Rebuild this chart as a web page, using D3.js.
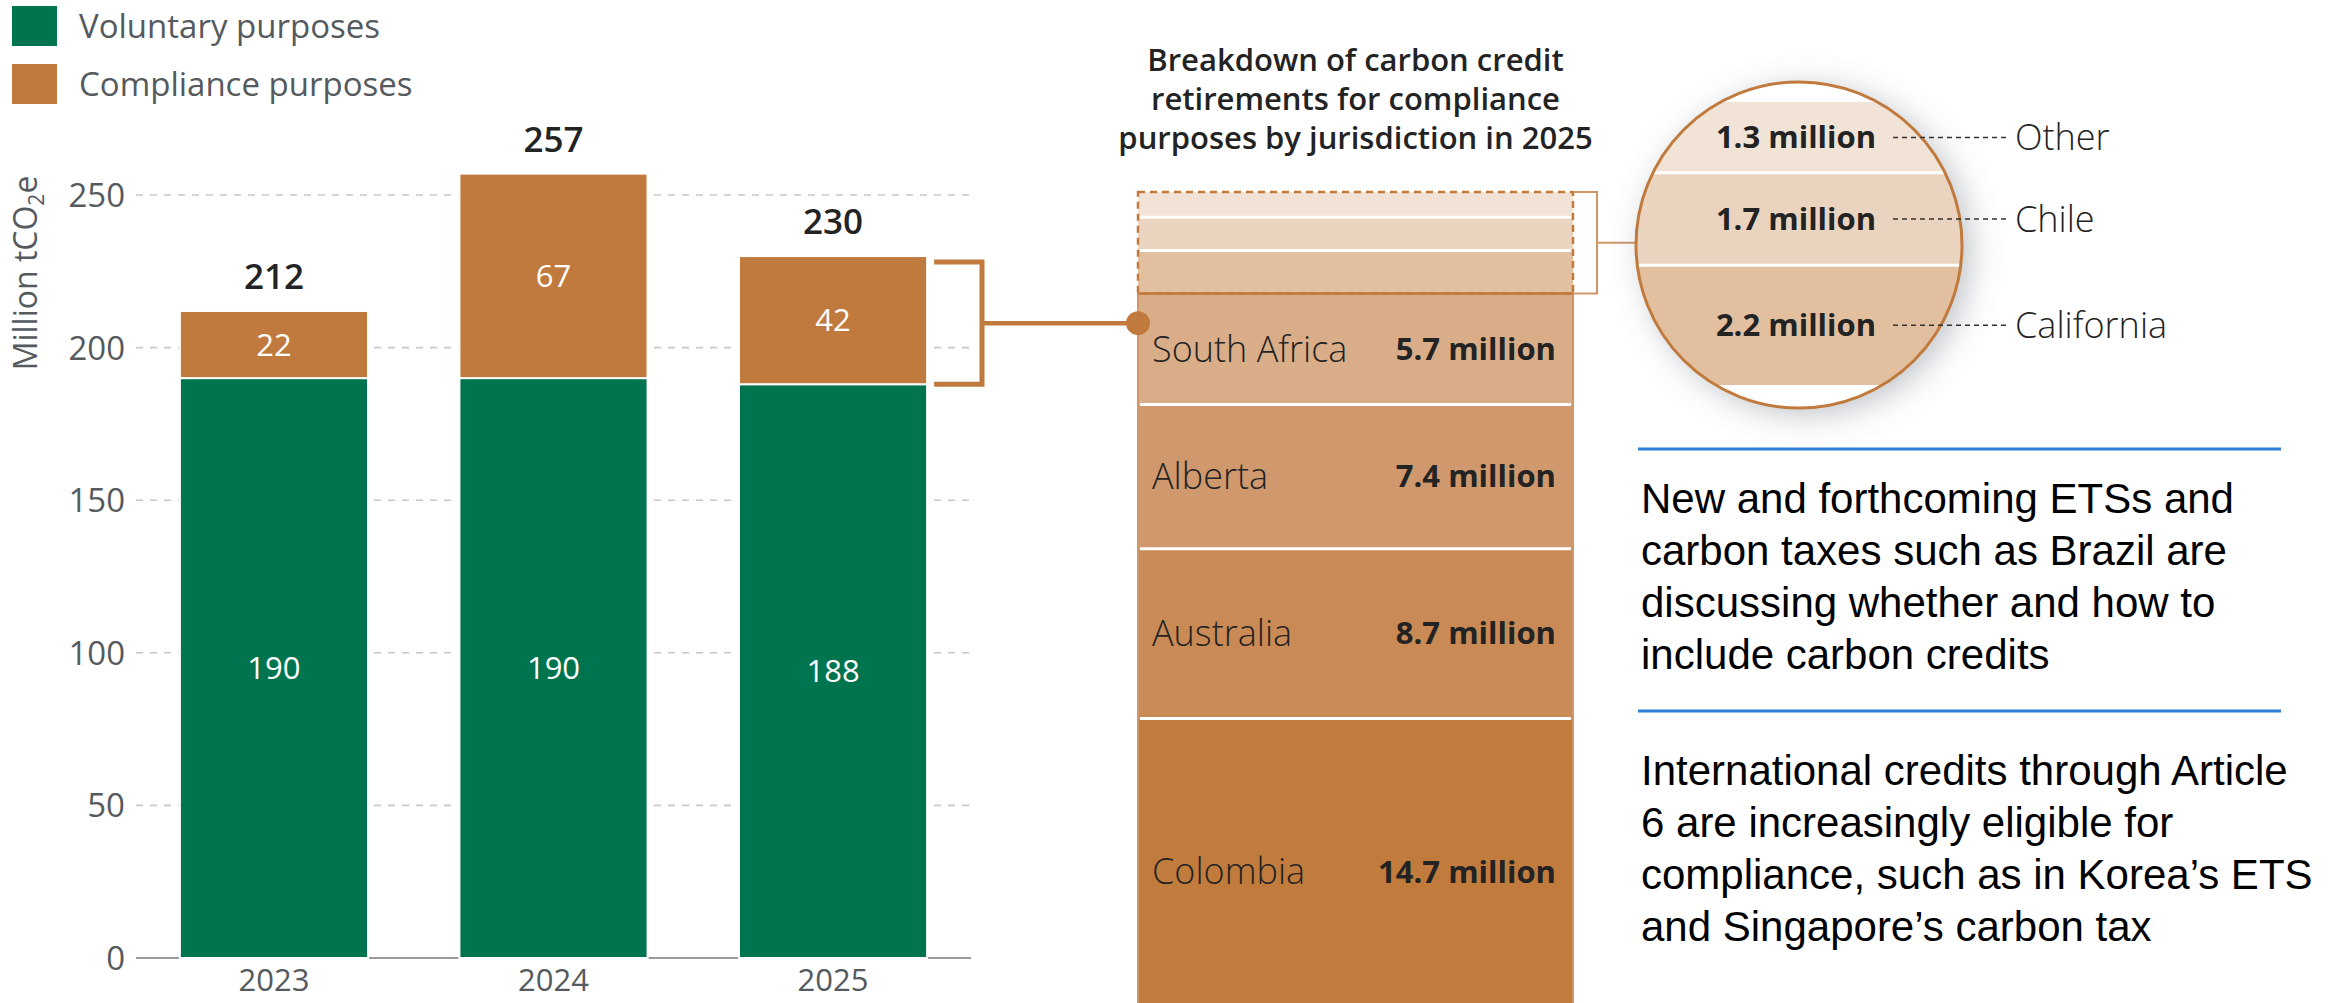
<!DOCTYPE html>
<html>
<head>
<meta charset="utf-8">
<script src="https://cdn.jsdelivr.net/npm/d3@7"></script>
<style>
  html, body { margin: 0; padding: 0; background: #ffffff; }
  svg { display: block; }
  text { font-family: "Open Sans", "Lato", sans-serif; }
</style>
</head>
<body>
<svg id="chart" width="2346" height="1003"></svg>
<script>
// ---------- data ----------
const years = ["2023", "2024", "2025"];
const voluntary = [190, 190, 188];
const compliance = [22, 67, 42];
const totals = [212, 257, 230];
const yTicks = [0, 50, 100, 150, 200, 250];
const seriesNames = ["Voluntary purposes", "Compliance purposes"];

const jurisdictions = ["Colombia", "Australia", "Alberta", "South Africa", "California", "Chile", "Other"];
const jurisValues = [14.7, 8.7, 7.4, 5.7, 2.2, 1.7, 1.3];
const jurisLabels = ["14.7 million", "8.7 million", "7.4 million", "5.7 million", "2.2 million", "1.7 million", "1.3 million"];
const zoomedNames = ["California", "Chile", "Other"];

const breakdownTitle = ["Breakdown of carbon credit", "retirements for compliance", "purposes by jurisdiction in 2025"];
const note1 = ["New and forthcoming ETSs and", "carbon taxes such as Brazil are", "discussing whether and how to", "include carbon credits"];
const note2 = ["International credits through Article", "6 are increasingly eligible for", "compliance, such as in Korea\u2019s ETS", "and Singapore\u2019s carbon tax"];

// ---------- styles ----------
const GREEN = "#00734f";
const ORANGE = "#c17a3d";
const jurisColors = ["#c17b3d", "#c98a55", "#d0986d", "#d9ad87", "#e2bf9f", "#ebd4bf", "#f1e3d6"];
const GRAY = "#555a5e";
const DARK = "#232323";

const svg = d3.select("#chart");

// defs: shadow + clip
const defs = svg.append("defs");
const f = defs.append("filter").attr("id", "shadow").attr("x", "-40%").attr("y", "-40%").attr("width", "180%").attr("height", "180%");
f.append("feDropShadow").attr("dx", 8).attr("dy", 6).attr("stdDeviation", 16).attr("flood-color", "#6f7680").attr("flood-opacity", 0.45);

// ---------- main bar chart ----------
const x = d3.scaleBand().domain(years).range([136, 971]).paddingInner(0.327).paddingOuter(0.157);
const y = d3.scaleLinear().domain([0, 250]).range([958, 195]);

// gridlines
const grid = svg.append("g");
grid.selectAll("line").data(yTicks.filter(d => d > 0)).join("line")
  .attr("x1", 136).attr("x2", 971)
  .attr("y1", d => y(d)).attr("y2", d => y(d))
  .attr("stroke", "#c8c8c8").attr("stroke-width", 1.6).attr("stroke-dasharray", "7,7");

// y axis
const yAxis = d3.axisLeft(y).tickValues(yTicks).tickSize(0).tickPadding(0);
const ya = svg.append("g").attr("transform", "translate(125,0)").call(yAxis);
ya.select(".domain").remove();
ya.selectAll("text").attr("font-size", 33).attr("fill", GRAY).attr("dy", "0.35em")
  .style("font-family", "'Open Sans', sans-serif");

// baseline
svg.append("line").attr("x1", 136).attr("x2", 971).attr("y1", y(0)).attr("y2", y(0))
  .attr("stroke", "#9a9a9a").attr("stroke-width", 2);

// y title
svg.append("text")
  .attr("transform", `translate(37,${273}) rotate(-90)`)
  .attr("text-anchor", "middle").attr("font-size", 32).attr("fill", GRAY)
  .html('Million tCO<tspan font-size="21" dy="7">2</tspan><tspan dy="-7">e</tspan>');

// stacked bars
const stackData = years.map((yr, i) => ({ year: yr, voluntary: voluntary[i], compliance: compliance[i] }));
const stack = d3.stack().keys(["voluntary", "compliance"])(stackData);
const colors = { voluntary: GREEN, compliance: ORANGE };
svg.append("g").selectAll("g").data(stack).join("g")
  .attr("fill", d => colors[d.key])
  .selectAll("rect").data(d => d).join("rect")
  .attr("x", d => x(d.data.year))
  .attr("width", x.bandwidth())
  .attr("y", d => y(d[1]))
  .attr("height", d => y(d[0]) - y(d[1]))
  .attr("stroke", "#ffffff").attr("stroke-width", 2);

// segment labels
svg.append("g").selectAll("g").data(stack).join("g")
  .selectAll("text").data(d => d).join("text")
  .attr("x", d => x(d.data.year) + x.bandwidth() / 2)
  .attr("y", d => (y(d[0]) + y(d[1])) / 2)
  .attr("dy", "0.36em").attr("text-anchor", "middle")
  .attr("font-size", 31).attr("fill", "#ffffff")
  .text(d => d[1] - d[0]);

// totals
svg.append("g").selectAll("text").data(years).join("text")
  .attr("x", d => x(d) + x.bandwidth() / 2)
  .attr("y", (d, i) => y(totals[i]) - 22)
  .attr("text-anchor", "middle").attr("font-size", 35).attr("font-weight", 600).attr("fill", DARK)
  .text((d, i) => totals[i]);

// x axis labels
const xAxis = d3.axisBottom(x).tickSize(0).tickPadding(0);
const xa = svg.append("g").attr("transform", `translate(0,${y(0)})`).call(xAxis);
xa.select(".domain").remove();
xa.selectAll("text").attr("font-size", 31).attr("fill", GRAY).attr("dy", "1.08em")
  .style("font-family", "'Open Sans', sans-serif");

// legend
const leg = svg.append("g");
seriesNames.forEach((name, i) => {
  const yy = 6 + i * 58;
  leg.append("rect").attr("x", 12).attr("y", yy).attr("width", 45).attr("height", 40)
    .attr("fill", i === 0 ? GREEN : ORANGE);
  leg.append("text").attr("x", 79).attr("y", yy + 20).attr("dy", "0.35em")
    .attr("font-size", 33).attr("fill", GRAY).text(name);
});

// ---------- bracket from 2025 bar ----------
const last = years.length - 1;
const bTop = y(totals[last]) + 6;
const bBot = y(voluntary[last]);
const bx0 = x(years[last]) + x.bandwidth() + 7;
const bx1 = 982;
const bMid = (bTop + bBot) / 2;
svg.append("path")
  .attr("d", `M${bx0},${bTop} H${bx1} V${bBot} H${bx0}`)
  .attr("fill", "none").attr("stroke", ORANGE).attr("stroke-width", 5);
svg.append("line").attr("x1", bx1).attr("x2", 1138).attr("y1", bMid).attr("y2", bMid)
  .attr("stroke", ORANGE).attr("stroke-width", 4.5);

// ---------- breakdown column ----------
const colX0 = 1138, colX1 = 1573;
const yb = d3.scaleLinear().domain([0, d3.sum(jurisValues)]).range([1005, 192]);
let cum = 0;
const colData = jurisdictions.map((name, i) => {
  const d = { name, value: jurisValues[i], label: jurisLabels[i], y0: cum, y1: cum + jurisValues[i], color: jurisColors[i], zoomed: zoomedNames.includes(name) };
  cum += jurisValues[i];
  return d;
});

const col = svg.append("g");
col.selectAll("rect").data(colData).join("rect")
  .attr("x", colX0).attr("width", colX1 - colX0)
  .attr("y", d => yb(d.y1)).attr("height", d => yb(d.y0) - yb(d.y1))
  .attr("fill", d => d.color);
// white separators
col.selectAll("line.sep").data(colData.slice(0, -1)).join("line").attr("class", "sep")
  .attr("x1", colX0 + 2).attr("x2", colX1 - 2)
  .attr("y1", d => yb(d.y1)).attr("y2", d => yb(d.y1))
  .attr("stroke", "#ffffff").attr("stroke-width", 3)
  .attr("opacity", d => d.name === "South Africa" ? 0 : 1);
// solid border around non-zoomed part
const unz = colData.filter(d => !d.zoomed);
const unzTop = yb(d3.max(unz, d => d.y1));
svg.append("path")
  .attr("d", `M${colX0},1010 V${unzTop} H${colX1} V1010`)
  .attr("fill", "none").attr("stroke", "#cf9768").attr("stroke-width", 2);
// dashed box around zoomed part
const zTop = yb(d3.max(colData, d => d.y1));
svg.append("rect").attr("x", colX0).attr("y", zTop).attr("width", colX1 - colX0).attr("height", unzTop - zTop)
  .attr("fill", "none").attr("stroke", ORANGE).attr("stroke-width", 2.5).attr("stroke-dasharray", "7,5");
svg.append("line").attr("x1", colX0).attr("x2", colX1).attr("y1", unzTop).attr("y2", unzTop)
  .attr("stroke", ORANGE).attr("stroke-width", 2.5);

// labels in column (bottom band label sits slightly lower, as the band runs off the page)
const labeled = colData.filter(d => !d.zoomed);
const labY = d => (yb(d.y0) + yb(d.y1)) / 2 + (d.y0 === 0 ? 10 : 0);
col.selectAll("text.name").data(labeled).join("text").attr("class", "name")
  .attr("x", 1152).attr("y", labY).attr("dy", "0.35em")
  .attr("font-size", 36).attr("font-weight", 300).attr("fill", DARK)
  .text(d => d.name);
col.selectAll("text.val").data(labeled).join("text").attr("class", "val")
  .attr("x", 1556).attr("y", labY).attr("dy", "0.35em")
  .attr("text-anchor", "end").attr("font-size", 31).attr("font-weight", 700).attr("fill", DARK)
  .text(d => d.label);

// connector dot
svg.append("circle").attr("cx", colX0).attr("cy", bMid).attr("r", 12).attr("fill", ORANGE);

// title
svg.append("g").selectAll("text").data(breakdownTitle).join("text")
  .attr("x", (colX0 + colX1) / 2).attr("y", (d, i) => 71 + i * 39)
  .attr("text-anchor", "middle").attr("font-size", 31).attr("font-weight", 600).attr("fill", DARK)
  .text(d => d);

// small bracket to magnifier
const cx = 1799, cy = 245, r = 163;
svg.append("path")
  .attr("d", `M${colX1},${zTop} H1597 V${unzTop} H${colX1}`)
  .attr("fill", "none").attr("stroke", "#cf9768").attr("stroke-width", 2);
svg.append("line").attr("x1", 1597).attr("x2", cx - r).attr("y1", (zTop + unzTop) / 2).attr("y2", (zTop + unzTop) / 2)
  .attr("stroke", "#cf9768").attr("stroke-width", 2);

// ---------- magnifier ----------
defs.append("clipPath").attr("id", "circClip").append("circle").attr("cx", cx).attr("cy", cy).attr("r", r);
svg.append("circle").attr("cx", cx).attr("cy", cy).attr("r", r).attr("fill", "#ffffff").attr("filter", "url(#shadow)");
const zoomData = colData.filter(d => d.zoomed);
const zBase = d3.min(zoomData, d => d.y0);
const yz = d3.scaleLinear().domain([0, d3.sum(zoomData, d => d.value)]).range([385, 102]);
const mag = svg.append("g").attr("clip-path", "url(#circClip)");
mag.selectAll("rect").data(zoomData).join("rect")
  .attr("x", cx - r).attr("width", 2 * r)
  .attr("y", d => yz(d.y1 - zBase)).attr("height", d => yz(d.y0 - zBase) - yz(d.y1 - zBase))
  .attr("fill", d => d.color);
mag.selectAll("line").data(zoomData.slice(0, -1)).join("line")
  .attr("x1", cx - r).attr("x2", cx + r)
  .attr("y1", d => yz(d.y1 - zBase)).attr("y2", d => yz(d.y1 - zBase))
  .attr("stroke", "#ffffff").attr("stroke-width", 3);
svg.append("circle").attr("cx", cx).attr("cy", cy).attr("r", r)
  .attr("fill", "none").attr("stroke", ORANGE).attr("stroke-width", 3);

const zLabY = d => (yz(d.y0 - zBase) + yz(d.y1 - zBase)) / 2;
svg.append("g").selectAll("text").data(zoomData).join("text")
  .attr("x", 1796).attr("y", zLabY).attr("dy", "0.35em")
  .attr("text-anchor", "middle").attr("font-size", 31).attr("font-weight", 700).attr("fill", DARK)
  .text(d => d.label);
svg.append("g").selectAll("line").data(zoomData).join("line")
  .attr("x1", 1893).attr("x2", 2008).attr("y1", zLabY).attr("y2", zLabY)
  .attr("stroke", "#333").attr("stroke-width", 1.5).attr("stroke-dasharray", "5,4");
svg.append("g").selectAll("text").data(zoomData).join("text")
  .attr("x", 2015).attr("y", zLabY).attr("dy", "0.35em")
  .attr("font-size", 36).attr("font-weight", 300).attr("fill", DARK)
  .text(d => d.name);

// ---------- notes ----------
const notesG = svg.append("g");
[449, 711].forEach(yy => {
  notesG.append("line").attr("x1", 1638).attr("x2", 2281).attr("y1", yy).attr("y2", yy)
    .attr("stroke", "#2f7fd6").attr("stroke-width", 3);
});
[[note1, 513], [note2, 785]].forEach(([lines, y0]) => {
  notesG.append("g").selectAll("text").data(lines).join("text")
    .attr("x", 1641).attr("y", (d, i) => y0 + i * 52)
    .attr("font-size", 42).attr("fill", "#000")
    .style("font-family", "'Liberation Sans', Arial, sans-serif")
    .text(d => d);
});
</script>
</body>
</html>
